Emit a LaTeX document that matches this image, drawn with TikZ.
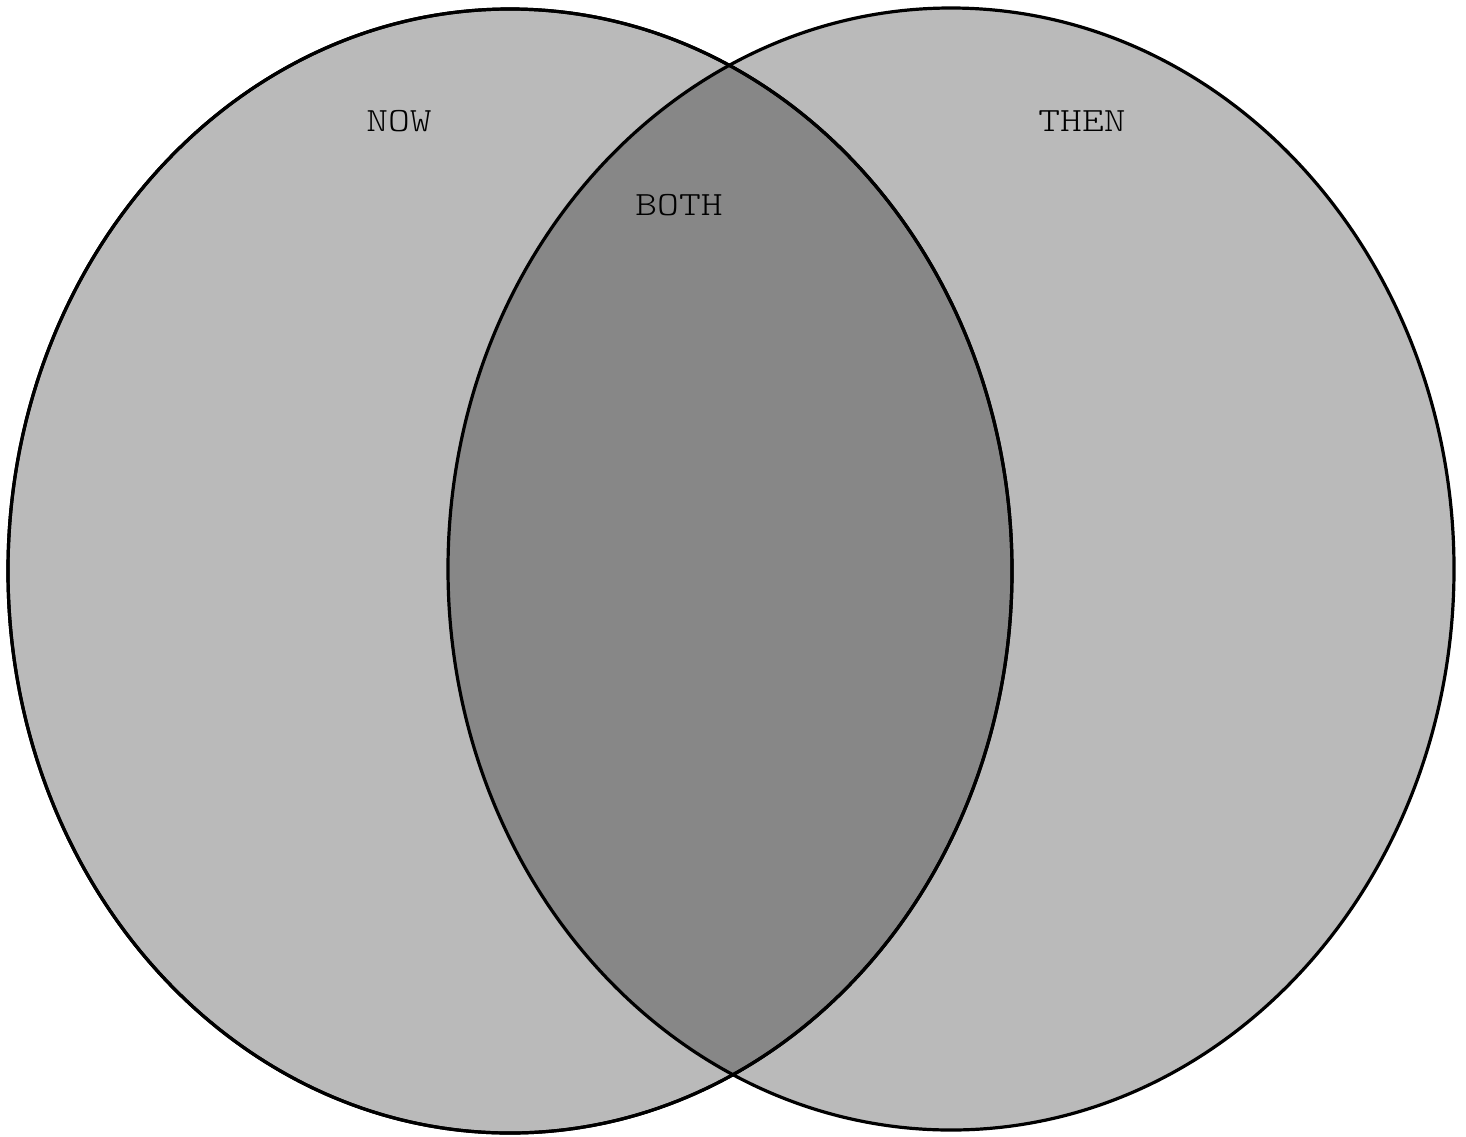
\documentclass[tikz,border=0pt]{standalone}
\usepackage{fontspec}
\newfontfamily\lblfont[FakeStretch=1.22]{Latin Modern Mono Light}
\begin{document}
\begin{tikzpicture}[x=1pt,y=-1pt,
  setshape/.style={draw=black,line width=3.2pt,fill=black,fill opacity=0.27,draw opacity=1},
  setlabel/.style={font=\lblfont\fontsize{34}{38}\selectfont,text=black,inner sep=0pt}]
\useasboundingbox (0,0) rectangle (1466,1136);
\fill[white] (0,0) rectangle (1466,1136);
\path[setshape] (510,571) ellipse [x radius=502, y radius=562];
\path[setshape] (951,569) ellipse [x radius=503, y radius=561];
\draw[line width=3.2pt] (510,571) ellipse [x radius=502, y radius=562];
\node[setlabel] (now) at (399,121) {NOW};
\node[setlabel] (both) at (679,205) {BOTH};
\node[setlabel] (then) at (1082,121) {THEN};
\end{tikzpicture}
\end{document}
